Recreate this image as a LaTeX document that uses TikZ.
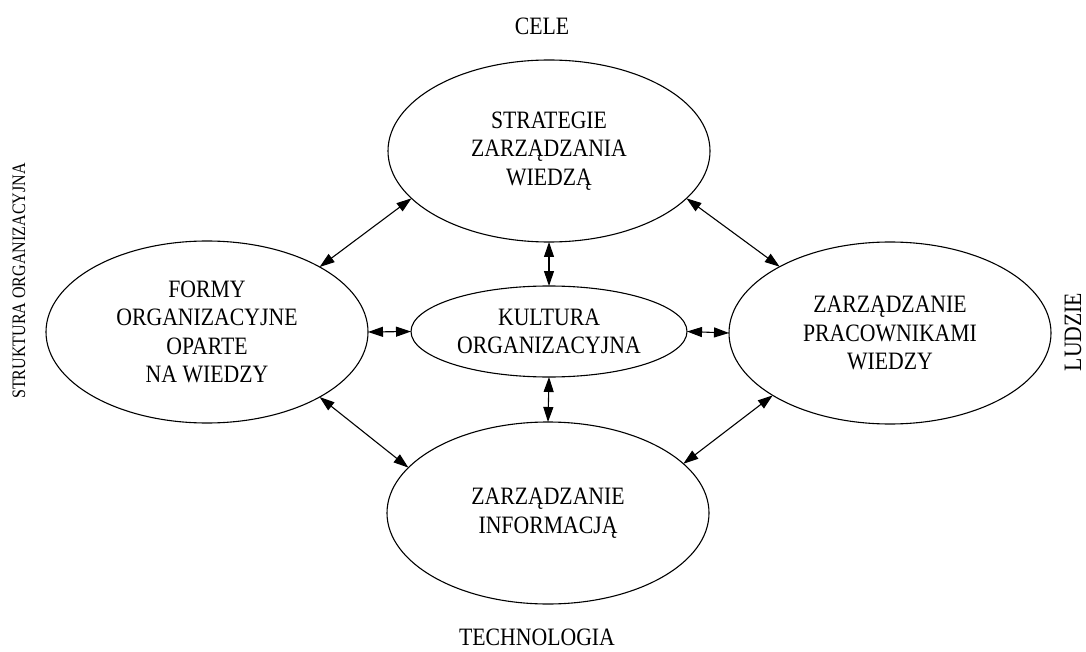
\documentclass[tikz,border=0pt]{standalone}
\usepackage{fontspec}
\setmainfont{Liberation Serif}[FakeStretch=0.87]
\usetikzlibrary{shapes.geometric,arrows.meta}
\begin{document}
\begin{tikzpicture}[x=1pt,y=-1pt,
  oval/.style={draw,ellipse,line width=1.1pt,inner sep=0pt,outer sep=0pt,
    align=center,font=\fontsize{25}{28.5}\selectfont},
  big/.style={oval,minimum width=322pt,minimum height=182pt},
  link/.style={line width=1.1pt,{Triangle[length=15pt,width=10pt]}-{Triangle[length=15pt,width=10pt]}},
  lbl/.style={inner sep=0pt,font=\fontsize{25}{28.5}\selectfont}]
\useasboundingbox (0,0) rectangle (1086,652);
\node[big] (top) at (549,151) {STRATEGIE\\ZARZĄDZANIA\\WIEDZĄ};
\node[big] (left) at (207,332) {FORMY\\ORGANIZACYJNE\\OPARTE\\NA WIEDZY};
\node[big] (right) at (890,333) {ZARZĄDZANIE\\PRACOWNIKAMI\\WIEDZY};
\node[big] (bot) at (548,513) {ZARZĄDZANIE\\INFORMACJĄ};
\node[oval,minimum width=276pt,minimum height=91pt] (mid) at (549,331.5) {KULTURA\\ORGANIZACYJNA};
\node[lbl] (cele) at (542,26) {CELE};
\node[lbl] (tech) at (537,637) {TECHNOLOGIA};
\node[lbl,rotate=90] (ludzie) at (1073,332) {LUDZIE};
\node[lbl,rotate=90,font=\fontsize{19}{22}\selectfont] (struk) at (19,281) {\scalebox{0.97}[1]{STRUKTURA ORGANIZACYJNA}};
\draw[link] (top.199) -- (left.30);
\draw[link] (top.341) -- (right.149);
\draw[link] (left.330) -- (bot.162);
\draw[link] (right.208) -- (bot.20);
\draw[link] (top.south) -- (mid.north);
\draw[link] (mid.south) -- (bot.north);
\draw[link] (left.east) -- (mid.west);
\draw[link] (mid.east) -- (right.west);
\end{tikzpicture}
\end{document}
